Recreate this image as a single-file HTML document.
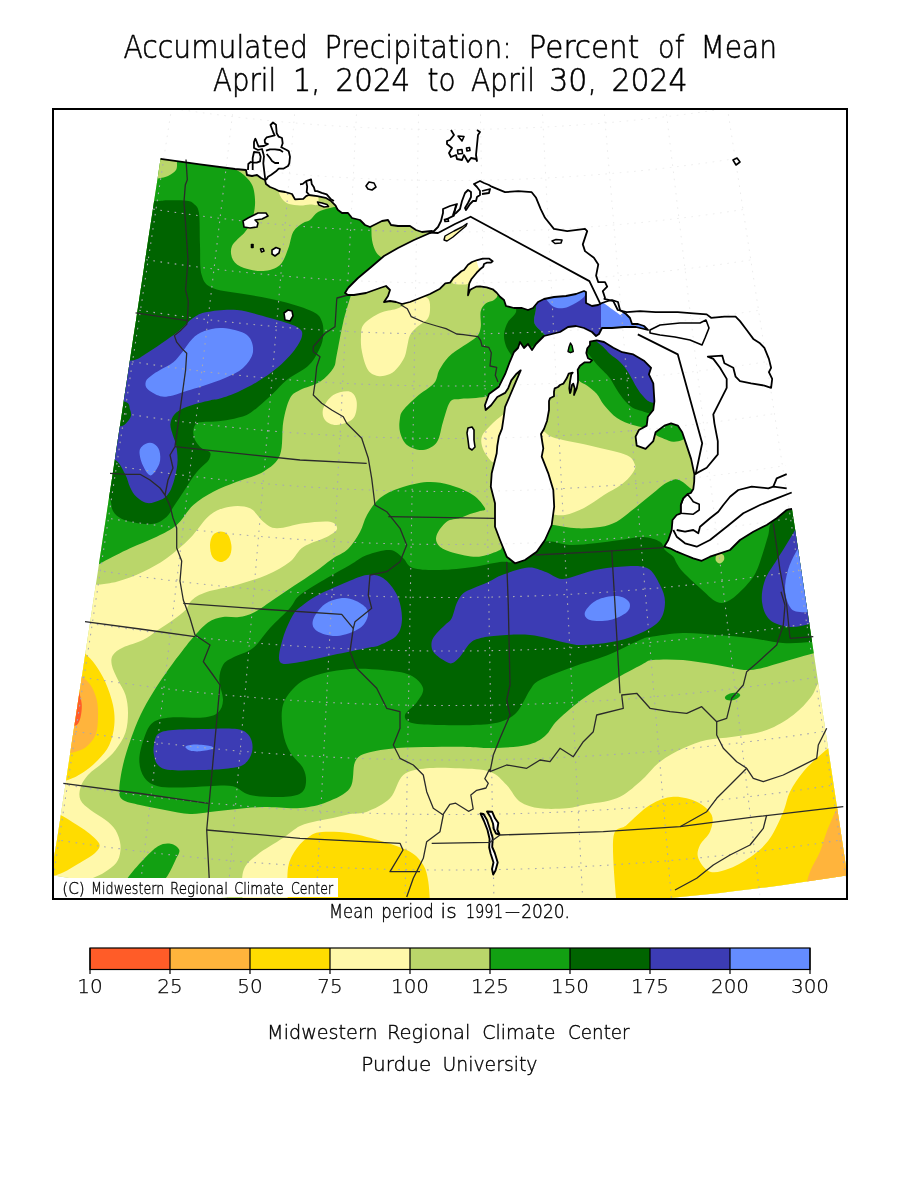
<!DOCTYPE html>
<html><head><meta charset="utf-8"><title>Accumulated Precipitation: Percent of Mean</title>
<style>html,body{margin:0;padding:0;background:#fff;}svg{display:block;}</style></head>
<body>
<svg width="900" height="1200" viewBox="0 0 900 1200">
<defs><clipPath id="land"><path d="M160.5 159 L157.5 179 L154.4 199 L151.4 219 L148.3 239 L145.3 259 L142.3 279 L139.2 299 L136.2 319 L133.1 339 L130.1 359 L127.1 379 L124 399 L121 419 L117.9 439 L114.9 459 L111.9 479 L108.8 499 L105.8 519 L102.7 539 L99.7 559 L96.7 579 L93.6 599 L90.6 619 L87.5 639 L84.5 659 L81.5 679 L78.4 699 L75.4 719 L72.3 739 L69.3 759 L66.3 779 L63.2 799 L60.2 819 L57.1 839 L54 857 L54 875.5 L60 876.5 L75 878.9 L90 881.2 L105 883.4 L120 885.5 L135 887.5 L150 889.4 L165 891.2 L180 893 L195 894.6 L210 896.1 L225 897.6 L240 898.9 L255 900.2 L270 901.3 L285 902.4 L300 903.4 L315 904.3 L330 905 L345 905.7 L360 906.3 L375 906.9 L390 907.3 L405 907.6 L420 907.8 L435 908 L450 908 L465 908 L480 907.8 L495 907.6 L510 907.2 L525 906.8 L540 906.3 L555 905.7 L570 905 L585 904.2 L600 903.3 L615 902.4 L630 901.3 L645 900.1 L660 898.9 L675 897.5 L690 896.1 L705 894.5 L720 892.9 L735 891.1 L750 889.3 L765 887.4 L780 885.4 L795 883.3 L810 881.1 L825 878.8 L840 876.4 L846 875.4 L846 868 L845 860 L842 840 L839 820 L835.9 800 L832.9 780 L829.9 760 L826.9 740 L823.9 720 L820.8 700 L817.8 680 L814.8 660 L811.8 640 L808.8 620 L805.7 600 L802.7 580 L799.7 560 L796.7 540 L793.7 520 L792 509 L788.7 509.3 L786.7 510 L776.7 518.3 L766.7 525 L753.3 531.7 L740 540 L730 550 L720 553.3 L710 556.7 L701.7 560.8 L693.3 558.3 L685 555 L676.7 551.7 L670 548.3 L664.2 546.7 L668.3 540 L671.7 530 L672.5 520 L676.7 515 L680.8 513.3 L680.8 505 L683.3 498.3 L687.5 494.2 L690.8 493 L693.3 489 L694.2 481.7 L694.4 474.4 L691.1 458.9 L686.7 445.6 L682.2 432.2 L677.8 425.6 L671.1 423.3 L664.4 425.6 L655.6 432.2 L653.3 441.1 L645.6 448.9 L636.7 445.6 L635.6 436.7 L638.9 430 L646.7 425.6 L647.8 416.7 L653.3 410 L654.4 401.1 L653.3 383.3 L648.9 374.4 L651.1 367.8 L644.4 361.1 L633.3 354.4 L622.2 352.2 L613.3 347.8 L604 342 L596.7 340.3 L590 341.7 L590 345 L587.3 348.3 L586.3 353 L588 358.3 L592 360.3 L590 362.3 L584.7 362.3 L580 365.7 L577.7 369.7 L578 375 L578 381.7 L576.7 388.3 L574 395 L574.7 388.3 L573.3 383.7 L572 385 L570.7 391.7 L570 393 L569.3 388.3 L570 381.7 L571.3 374.3 L572.7 372.7 L568.7 373.7 L566.7 378.3 L563.3 383.7 L560 385 L558 387 L554.7 388.3 L554 391.7 L554 396.3 L550 398.3 L549 401 L549 410 L547 421 L544 429 L541 434 L543.3 448.3 L541.7 456.7 L548.3 473.3 L553.3 490 L554.2 506.7 L551.7 525 L545 540 L536.7 551.7 L525 560 L515 563.3 L506.7 556.7 L500 540 L495 526.7 L495 503.3 L490.8 486.7 L491.7 473.3 L496.7 453.3 L497.3 445.8 L498.9 436.4 L502 428.7 L503.6 417.8 L505.1 406.9 L509.8 396 L514.4 385.1 L520.7 370.3 L516 374.2 L511.3 380.4 L508.2 388.2 L505.1 392.9 L497.3 397 L491.1 405.3 L485.7 410 L484.9 405.3 L489 394 L498.9 386.7 L505.1 374.2 L509.8 361.8 L514 352 L518 348 L520 342 L524 348 L528 344 L532 350 L536 344 L540 340 L544 336 L552 334 L560 332 L568 327 L576 326 L584 328 L592 332 L596 336 L599 334 L602 328 L612 328 L624 327 L636 327 L648 330 L644 326 L638 324 L632 324 L630 318 L626 314 L620 310 L618 302 L612 300 L608 301 L602 303 L598 305 L592 306 L586 303 L586 292 L584 291 L576 294 L566 296 L554 297 L544 299 L538 302 L533 308 L528 310 L522 308 L514 308 L506 306 L504 300 L500 296.7 L496.7 292.7 L492.7 289.3 L486.7 287.3 L480 286.3 L476 286.7 L472 288.7 L470 290 L468 295.3 L468.7 287.3 L469.3 283.3 L471.3 279.3 L474 276 L476.7 272.7 L480 269.3 L483.3 266.7 L484 264 L486.7 262.7 L490.7 262.7 L492.7 261.3 L489.3 258.7 L482.7 258.7 L477.3 260 L472 262 L468 264.7 L464 270 L461.3 271.3 L457.3 274.7 L453.3 278 L450 282.7 L445.3 283.3 L440 288.7 L430 294 L420 298 L410 302 L402 304 L396 302 L390 301 L384 302 L388 296 L390 290 L386 286 L380 288 L366 293 L354 295 L348 295 L345 293 L348 288 L358 278 L370 268 L384 256 L398 248 L414 240 L430 233 L432 231 L422 232 L416 230 L410 226 L398 226 L391 225 L388 220 L382 221 L376 224 L370 227 L365 225 L360 220 L352 218 L348 213 L342 213 L338 210 L337.2 208.9 L335.6 205.6 L331.1 201.1 L325.6 197.8 L317.2 196.1 L308.9 195 L306.1 196.1 L303.3 198.9 L295 199.4 L292 194 L285 192 L279 191 L275 189 L270 187 L266 184 L265 180 L261 178 L257 175 L252 176 L247 175 L246 170 L235 169 L200 164.3 L160.5 158.8Z"/></clipPath>
<clipPath id="dom"><path d="M168.3 108 L54 857 L54 900 L846 900 L846 868 L731.4 108Z"/></clipPath>
<clipPath id="frame"><rect x="54" y="110" width="792" height="788"/></clipPath></defs>
<rect width="900" height="1200" fill="#fff"/>
<g clip-path="url(#frame)">
<path clip-path="url(#dom)" fill="none" stroke="#ebebeb" stroke-width="1" stroke-dasharray="1.6 5.6" d="M40.0 83.1A1829.5 1829.5 0 0 0 860.0 82.9M40.0 135.4A1880.5 1880.5 0 0 0 860.0 135.1M40.0 188.1A1932.0 1932.0 0 0 0 860.0 187.9M40.0 240.3A1983.0 1983.0 0 0 0 860.0 240.0M40.0 292.4A2034.0 2034.0 0 0 0 860.0 292.1M40.0 345.4A2086.0 2086.0 0 0 0 860.0 345.2M40.0 398.9A2138.5 2138.5 0 0 0 860.0 398.7M40.0 452.9A2191.5 2191.5 0 0 0 860.0 452.7M40.0 506.8A2244.5 2244.5 0 0 0 860.0 506.6M40.0 560.7A2297.5 2297.5 0 0 0 860.0 560.5M40.0 615.1A2351.0 2351.0 0 0 0 860.0 614.9M40.0 670.4A2405.5 2405.5 0 0 0 860.0 670.2M40.0 725.7A2460.0 2460.0 0 0 0 860.0 725.5M40.0 780.9A2514.5 2514.5 0 0 0 860.0 780.8M40.0 837.2A2570.0 2570.0 0 0 0 860.0 837.0M172.8 100.0L49.0 905.0M234.2 100.0L138.0 905.0M295.8 100.0L227.0 905.0M357.2 100.0L316.0 905.0M418.8 100.0L405.0 905.0M480.2 100.0L494.0 905.0M541.8 100.0L583.0 905.0M603.2 100.0L672.0 905.0M664.8 100.0L761.0 905.0M726.2 100.0L850.0 905.0"/>
<g clip-path="url(#land)">
<rect x="0" y="0" width="900" height="1200" fill="#bad66a"/>
<path fill="#fff8aa" d="M94 585C94 585 108.5 583.9 116.7 581.7C124.9 579.5 135 575.6 143.3 571.7C151.6 567.8 158.9 563.9 166.7 558.3C174.5 552.7 182.8 545.5 190 538.3C197.2 531.1 203.3 520.3 210 515C216.7 509.7 223.3 507.8 230 506.7C236.7 505.6 244.4 505.8 250 508.3C255.6 510.8 258.9 518.4 263.3 521.7C267.8 525 270 528 276.7 528.3C283.4 528.6 294.4 524.4 303.3 523.3C312.2 522.2 324.4 520.8 330 521.7C335.6 522.7 337.6 526.5 337 529C336.4 531.5 332.3 534 326.7 537C321.1 540 309.4 542.9 303.3 547C297.2 551.1 296.1 557 290 561.7C283.9 566.4 275.6 571.1 266.7 575C257.8 578.9 246.7 582.2 236.7 585C226.7 587.8 214.1 589.5 206.7 592C199.2 594.5 195.5 597 192 600C188.5 603 188.7 606.7 185.5 610C182.3 613.3 177.6 616.7 173 620C168.4 623.3 163 626.7 158 630C153 633.3 148.8 637.1 143 640C137.2 642.9 128 645 123 647.5C118 650 114.9 652.1 113 655C111.1 657.9 111 660.8 111.8 665C112.6 669.2 115.7 675 118 680C120.3 685 123.8 689.6 125.5 695C127.2 700.4 128 706.2 128 712.5C128 718.8 127.6 726.2 125.5 732.5C123.4 738.8 119.2 745 115.5 750C111.8 755 107.6 758.3 103 762.5C98.4 766.7 91.8 770.8 88 775C84.2 779.2 81.8 783.3 80.5 787.5C79.2 791.7 78.8 796.2 80.5 800C82.2 803.8 86.3 806.7 90.5 810C94.7 813.3 101.3 816.7 105.5 820C109.7 823.3 113 825.8 115.5 830C118 834.2 120.1 840 120.5 845C120.9 850 120.1 855.8 118 860C115.9 864.2 112.2 867 108 870C103.8 873 101 874.7 93 878C85 881.3 60 890 60 890C60 890 30 890 30 890C30 890 30 585 30 585C30 585 94 585 94 585Z"/>
<path fill="#fff8aa" d="M364 324C367.2 320.2 374.7 315.5 380 313C385.3 310.5 391.9 310.4 396 309C400.1 307.6 402 306.5 404.7 304.7C407.4 302.9 409.3 299.6 412 298C414.7 296.4 417.9 295.1 420.7 295.3C423.5 295.5 427.1 296.9 428.7 299.3C430.2 301.8 430.2 306.7 430 310C429.8 313.3 429.5 316.4 427.3 319.3C425.1 322.2 419.6 324.6 416.7 327.3C413.8 330 411.6 332.2 410 335.3C408.4 338.4 408.2 342.4 407.3 346C406.4 349.6 406.2 353.1 404.7 356.7C403.1 360.2 400.4 364.4 398 367.3C395.6 370.2 393.3 372.6 390 374C386.7 375.4 381.7 376.7 378 376C374.3 375.3 370.7 374 368 370C365.3 366 363.2 357.7 362 352C360.8 346.3 360.7 340.7 361 336C361.3 331.3 360.8 327.8 364 324Z"/>
<path fill="#fff8aa" d="M453 283.5C450.8 282.2 454.5 278.1 456 276C457.5 273.9 460 272.8 462 271C464 269.2 465.7 266.7 468 265C470.3 263.3 473.3 261.8 476 261C478.7 260.2 482.5 260 484 260.5C485.5 261 485.7 262.5 485 264C484.3 265.5 481.8 267.3 480 269.3C478.2 271.3 475.8 273.6 474 276C472.2 278.4 472.8 282.4 469.3 283.7C465.8 284.9 455.2 284.8 453 283.5Z"/>
<path fill="#fff8aa" d="M279 188C279 188 278.3 191 279 193C279.7 195 281.3 198.2 283 200C284.7 201.8 286.2 203.1 289 204C291.8 204.9 296.5 205.4 300 205.5C303.5 205.6 307 204.8 310 204.5C313 204.2 316.7 206.4 318 204C319.3 201.6 318 190 318 190C318 190 279 188 279 188Z"/>
<path fill="#fff8aa" d="M323.3 408.3C324.7 404.1 328.9 397.8 333.3 395C337.8 392.2 346.1 390.6 350 391.7C353.9 392.8 356.1 397.3 356.7 401.7C357.2 406.1 356.6 414.4 353.3 418.3C350 422.2 341.4 424.7 336.7 425C332 425.3 327.2 422.8 325 420C322.8 417.2 321.9 412.5 323.3 408.3Z"/>
<path fill="#fff8aa" d="M504 414C500.7 416 493.7 422.3 490 426C486.3 429.7 483.3 432.7 482 436C480.7 439.3 481.2 442.7 482 446C482.8 449.3 484.8 453.2 487 456C489.2 458.8 491.2 462.3 495 463C498.8 463.7 510 460 510 460C510 460 510 414 510 414C510 414 507.3 412 504 414Z"/>
<path fill="#fff8aa" d="M535 428C535 428 539.5 428.7 542 430C544.5 431.3 546.5 434.3 550 436C553.5 437.7 557.5 438.7 563 440C568.5 441.3 576.8 442.7 583 444C589.2 445.3 594.3 446.7 600 448C605.7 449.3 612 450.5 617 452C622 453.5 627 454.8 630 457C633 459.2 634.3 462.8 635 465C635.7 467.2 635.4 467.9 634.4 470C633.4 472.1 631.3 475.2 628.9 477.8C626.5 480.4 624.1 482.7 620 485.6C615.9 488.5 610 491.3 604 495C598 498.7 590.5 504.7 584 508C577.5 511.3 570.7 514 565 515C559.3 516 554.2 514.5 550 514C545.8 513.5 540 512 540 512C540 512 535 428 535 428Z"/>
<path fill="#fff8aa" d="M243 905C243 905 240.7 880.3 243 872C245.3 863.7 250.3 860.7 257 855C263.7 849.3 275.8 842.8 283 838C290.2 833.2 294.3 828.8 300 826C305.7 823.2 311.5 822.3 317 821C322.5 819.7 327.5 819.2 333 818C338.5 816.8 344.3 815 350 814C355.7 813 360.3 814.3 367 811.7C373.7 809.1 383.9 804.4 390 798.3C396.1 792.2 397.2 780 403.3 775C409.4 770 417.2 769.4 426.7 768.3C436.1 767.2 449.4 767.7 460 768.3C470.6 768.9 482.2 768.9 490 771.7C497.8 774.5 501.7 780 506.7 785C511.7 790 514.5 797.8 520 801.7C525.5 805.6 532.2 807.2 540 808.3C547.8 809.4 559.5 808.8 566.7 808.3C573.9 807.8 575 806.7 583.3 805C591.6 803.3 607.2 802.2 616.7 798.3C626.2 794.4 632.8 787.8 640 781.7C647.2 775.6 652.8 767.3 660 761.7C667.2 756.1 675.5 751.9 683.3 748.3C691.1 744.7 698.4 741.9 706.7 740C715 738.1 723.3 738.4 733.3 736.7C743.3 735 756.7 733.6 766.7 730C776.7 726.4 785.9 720.5 793.3 715C800.7 709.5 806.8 702.3 811 697C815.2 691.7 815.1 687.8 818.3 683.3C821.5 678.8 830 670 830 670C830 670 870 670 870 670C870 670 870 905 870 905C870 905 243 905 243 905Z"/>
<path fill="#ffdc00" d="M80 650C80 650 82.9 651.3 85.5 653.8C88.1 656.3 92.2 660.2 95.5 665C98.8 669.8 102.6 675.8 105.5 682.5C108.4 689.2 111.5 697.9 113 705C114.5 712.1 114.9 718.3 114.3 725C113.7 731.7 112 739.2 109.3 745C106.6 750.8 102.4 755.4 98 760C93.6 764.6 88 769.2 83 772.5C78 775.8 72.7 778.4 68 780C63.3 781.6 55 782 55 782C55 782 55 650 55 650C55 650 80 650 80 650Z"/>
<path fill="#ffdc00" d="M50 812C50 812 56.7 813.2 60.5 815C64.3 816.8 68.4 819.6 73 822.5C77.6 825.4 83.6 829 88 832.5C92.4 836 98 840.5 99.3 843.8C100.5 847.1 98.6 849.4 95.5 852.5C92.4 855.6 85.9 859.2 80.5 862.5C75.1 865.8 68.1 870.1 63 872.5C57.9 874.9 50 877 50 877C50 877 50 812 50 812Z"/>
<path fill="#ffdc00" d="M210 545C210.1 541.3 211.2 537.2 213 535C214.8 532.8 218.2 531.5 220.7 531.5C223.2 531.5 226.2 532.5 228 535C229.8 537.5 231.3 543 231.5 546.7C231.7 550.4 230.8 554.5 229 557C227.2 559.5 223.8 562 221 562C218.2 562 214.3 559.8 212.5 557C210.7 554.2 209.9 548.7 210 545Z"/>
<path fill="#ffdc00" d="M288 905C288 905 286.5 877.5 288 868C289.5 858.5 293.3 853.3 297 848C300.7 842.7 305.8 838.7 310 836C314.2 833.3 315.3 832.5 322 832C328.7 831.5 339.8 831.7 350 833.3C360.2 834.9 373.3 838.6 383.3 841.7C393.3 844.8 403.3 847.8 410 851.7C416.7 855.6 420.2 860 423.3 865C426.4 870 427.2 875 428.3 881.7C429.4 888.4 430 905 430 905C430 905 288 905 288 905Z"/>
<path fill="#ffdc00" d="M616.7 905C616.7 905 611.6 851.6 613.3 838.3C615 825 620.6 830.5 626.7 825C632.8 819.5 642.2 809.7 650 805C657.8 800.3 665.5 797.2 673.3 796.7C681.1 796.2 690.3 798.7 696.7 801.7C703.1 804.8 709.5 810 711.7 815C713.9 820 712 826.7 710 831.7C708 836.7 702 840.6 700 845C698 849.4 696.6 853.8 698.3 858.3C700 862.8 704.7 870 710 871.7C715.3 873.4 722.8 871.1 730 868.3C737.2 865.5 746.6 860 753.3 855C760 850 765 845.5 770 838.3C775 831.1 780 819.5 783.3 811.7C786.6 803.9 786.7 798.4 790 791.7C793.3 785 798.8 777.3 803.3 771.7C807.8 766.1 812.5 762.2 816.7 758.3C820.9 754.4 824.4 751.3 828.3 748.3C832.2 745.2 840 740 840 740C840 740 870 740 870 740C870 740 870 905 870 905C870 905 616.7 905 616.7 905Z"/>
<path fill="#ffb43c" d="M78 672C78 672 78.4 672.8 80.5 675C82.6 677.2 87.8 680.8 90.5 685C93.2 689.2 95.5 694.6 96.8 700C98 705.4 98.2 711.7 98 717.5C97.8 723.3 97.6 730 95.5 735C93.4 740 89.2 744.6 85.5 747.5C81.8 750.4 77.2 751.2 73 752.5C68.8 753.8 60 755 60 755C60 755 60 672 60 672C60 672 78 672 78 672Z"/>
<path fill="#ffb43c" d="M840 800C840 800 838.9 803 836.7 808.3C834.5 813.6 829.5 824.5 826.7 831.7C823.9 838.9 822.8 845 820 851.7C817.2 858.4 812.5 865.3 810 871.7C807.5 878.1 805 890 805 890C805 890 870 890 870 890C870 890 870 800 870 800C870 800 840 800 840 800Z"/>
<path fill="#ff5c28" d="M78 690C78 690 78.7 690 79.3 692.5C79.9 695 81.6 700.8 81.8 705C82 709.2 81.3 714.2 80.5 717.5C79.7 720.8 78.5 723.6 76.8 725C75 726.4 70 726 70 726C70 726 70 690 70 690C70 690 78 690 78 690Z"/>
<path fill="#12a012" d="M150 150C150 150 231.7 150 231.7 150C231.7 150 230.6 162.3 232 166C233.4 169.7 237.8 170.3 240 172C242.2 173.7 243.2 174.2 245 176C246.8 177.8 249.5 180.5 251 183C252.5 185.5 253.3 187.3 254 191C254.7 194.7 255.3 200.2 255 205C254.7 209.8 253.7 215.5 252 220C250.3 224.5 248.3 227.7 245 232C241.7 236.3 234 241.3 232 246C230 250.7 231 256.3 233 260C235 263.7 238.9 266.2 244 268C249.1 269.8 257.3 271.5 263.3 271C269.3 270.5 275.8 268.8 280 265C284.2 261.2 286.1 253.9 288.3 248.3C290.5 242.8 290.9 235.9 293.3 231.7C295.8 227.5 300.2 224.9 303 223C305.8 221.1 307.5 221.8 310 220C312.5 218.2 314.7 214 318 212C321.3 210 325.5 209.2 330 208C334.5 206.8 345 205 345 205C345 205 368 205 368 205C368 205 370.3 216.2 371 222C371.7 227.8 371.2 235 372 240C372.8 245 374.3 249 376 252C377.7 255 378 254.2 382 258C386 261.8 400 275 400 275C400 275 352 292 352 292C352 292 345.9 311.2 343.3 321.7C340.8 332.2 338.4 347.2 336.7 355C335 362.8 336.1 363.9 333.3 368.3C330.5 372.8 325.6 378.1 320 381.7C314.4 385.3 305 387.2 300 390C295 392.8 292.8 393 290 398.3C287.2 403.6 285 412.2 283.3 421.7C281.6 431.1 283.3 446.7 280 455C276.7 463.3 270.5 467.2 263.3 471.7C256.1 476.1 245 478.4 236.7 481.7C228.4 485 220.5 487.8 213.3 491.7C206.1 495.6 199.4 499.4 193.3 505C187.2 510.6 182.8 519.7 176.7 525C170.6 530.3 164.5 532.8 156.7 536.7C148.9 540.6 138.9 544.1 130 548.3C121.1 552.5 110 558.1 103.3 561.7C96.6 565.3 90 570 90 570C90 570 90 150 90 150C90 150 150 150 150 150Z"/>
<path fill="#12a012" d="M486 303.3C488.2 301.4 492 301.6 494 300C496 298.4 497.3 297.3 498 294C498.7 290.7 498 280 498 280C498 280 660 280 660 280C660 280 670 330 670 330C670 330 662 420 662 420C662 420 651.8 426.2 647 427C642.2 427.8 638 426.5 633 425C628 423.5 621.8 421.3 617 418C612.2 414.7 607.4 409.1 604 405C600.6 400.9 599.5 396.9 596.7 393.7C593.9 390.5 590.3 387.9 587.3 385.7C584.3 383.5 580.9 383.2 578.7 380.3C576.5 377.4 574 368 574 368C574 368 540 356 540 356C540 356 522 366 522 366C522 366 518.7 372.7 516 376C513.3 379.3 509.3 383.3 506 386C502.7 388.7 499 390.3 496 392C493 393.7 491.3 395 488 396C484.7 397 480.7 397.5 476 398C471.3 398.5 464.3 398.3 460 399C455.7 399.7 452.8 398.2 450 402C447.2 405.8 445.2 415.3 443 422C440.8 428.7 440.3 437.3 437 442C433.7 446.7 428 449.5 423 450C418 450.5 410.8 448 407 445C403.2 442 401.2 436.5 400 432C398.8 427.5 399.4 421.7 400 418C400.6 414.3 400.5 413.6 403.3 410C406.1 406.4 411.6 401.1 416.7 396.7C421.8 392.2 430.2 387.8 434 383.3C437.8 378.9 436.9 374.4 439.3 370C441.8 365.6 444.7 360.7 448.7 356.7C452.7 352.7 458.6 349.3 463.3 346C468 342.7 473.8 339.8 476.7 336.7C479.6 333.6 480 331.5 480.7 327.3C481.4 323.1 479.8 315.3 480.7 311.3C481.6 307.3 483.8 305.2 486 303.3Z"/>
<path fill="#12a012" d="M652 430C652 430 654.6 434.1 656.7 435.6C658.8 437.1 661.6 437.9 664.4 438.9C667.2 439.9 670.3 441.5 673.3 441.7C676.3 441.9 679.4 441.1 682.2 440C685 438.9 690 435 690 435C690 435 680 415 680 415C680 415 655 415 655 415C655 415 652 430 652 430Z"/>
<path fill="#12a012" d="M119.3 790C119.3 784.2 121.1 773.3 123 765C124.9 756.7 127.6 748.3 130.5 740C133.4 731.7 136.8 722.9 140.5 715C144.2 707.1 148.4 700 153 692.5C157.6 685 163 677.1 168 670C173 662.9 178.8 655.4 183 650C187.2 644.6 188.8 642.1 193 637.5C197.2 632.9 203 625.9 208 622.5C213 619.1 217.8 617.9 223 617C228.2 616.1 233.7 617.8 238.9 617C244.1 616.2 248.5 615.2 254.4 612.2C260.3 609.2 267.7 603.3 274.4 598.9C281.1 594.5 287.7 590 294.4 585.6C301.1 581.2 308.1 576.7 314.4 572.2C320.7 567.8 326.6 562.8 332.2 558.9C337.8 555 343.4 553.5 348 549C352.6 544.5 356.8 537.7 360 532C363.2 526.3 363.7 520.7 367 515C370.3 509.3 374.5 502.5 380 498C385.5 493.5 392.2 490.7 400 488C407.8 485.3 418.7 482.5 427 482C435.3 481.5 442.3 482.8 450 485C457.7 487.2 467.2 491.1 473 495C478.8 498.9 483.8 505.6 485 508.3C486.2 511 482.5 510.1 480 511C477.5 511.9 473.3 512.8 470 514C466.7 515.2 463.9 516.7 460 518C456.1 519.3 450.6 518.9 446.7 521.7C442.8 524.5 438.1 531.1 436.7 535C435.3 538.9 436.1 542.2 438.3 545C440.5 547.8 444.2 549.8 450 551.7C455.8 553.7 467.2 556.2 473.3 556.7C479.4 557.2 482.2 556.1 486.7 555C491.1 553.9 497.2 551.4 500 550C502.8 548.6 500 547.5 503.3 546.7C506.6 545.9 520 545 520 545C520 545 545 526 545 526C545 526 548 524.6 553.3 525C558.6 525.4 568.9 528 576.7 528.3C584.5 528.6 593.3 528.1 600 527C606.7 525.9 611.5 524.4 616.7 521.7C621.9 519.1 626.8 514.4 631 511.1C635.2 507.8 638.5 505 642.2 502C645.9 499 649.6 496 653.3 493C657 490 660.9 486.3 664.4 484C667.9 481.7 671.6 479.9 674.4 479.4C677.2 478.9 678.5 479.7 681.1 481.1C683.7 482.5 686.9 485.7 690 488C693.1 490.3 700 495 700 495C700 495 830 480 830 480C830 480 830 653 830 653C830 653 822.8 651.5 815 653C807.2 654.5 793.8 659.2 783 662C772.2 664.8 761 669.5 750 670C739 670.5 728.2 666.7 717 665C705.8 663.3 693.7 660.8 683 660C672.3 659.2 659.8 659.3 653 660C646.2 660.7 648.6 661.1 642 664.4C635.4 667.7 622.9 674.4 613.3 680C603.7 685.6 593.6 691.1 584.4 697.8C575.1 704.5 564.4 713.6 557.8 720C551.2 726.4 550.1 731.8 545 736C539.9 740.2 535.7 743 527 745C518.3 747 503 747.7 493 748C483 748.3 477 747.2 467 747C457 746.8 444.7 746.8 433 747C421.3 747.2 408 747 397 748C386 749 374 750.7 367 753C360 755.3 357.8 756.2 355 762C352.2 767.8 354.7 781.3 350 788C345.3 794.7 335.3 798.7 327 802C318.7 805.3 310.7 807.2 300 808C289.3 808.8 273.5 806.8 263 807C252.5 807.2 245.8 808.2 237 809C228.2 809.8 217.8 811.2 210 812C202.2 812.8 197.5 814.3 190 814C182.5 813.7 173.3 811.5 165 810C156.7 808.5 147 806.7 140 805C133 803.3 126.5 802.5 123 800C119.5 797.5 119.3 795.8 119.3 790Z"/>
<path fill="#12a012" d="M128 877.5C131 873.3 138 865.2 143 860C148 854.8 153.4 849 158 846.3C162.6 843.6 166.9 843.2 170.5 843.8C174.1 844.4 178.5 847.3 179.3 850C180.1 852.7 177.4 855.8 175.5 860C173.6 864.2 170.6 870.8 168 875C165.4 879.2 160 885 160 885C160 885 125 885 125 885C125 885 125 881.7 128 877.5Z"/>
<path fill="#12a012" d="M725 697C725.5 695.9 727.8 694.2 730 693.5C732.2 692.8 736.3 692.6 738 693C739.7 693.4 740.7 694.8 740 696C739.3 697.2 736.2 699.3 734 700C731.8 700.7 728.5 700.5 727 700C725.5 699.5 724.5 698.1 725 697Z"/>
<path fill="#bad66a" d="M158 150C158 150 177 150 177 150C177 150 177.2 158.2 177 161.5C176.8 164.8 177.5 167.6 176 170C174.5 172.4 171 174.6 168 176C165 177.4 158 178.5 158 178.5C158 178.5 158 150 158 150Z"/>
<path fill="#bad66a" d="M716 556C716.5 554.8 717.8 553.7 719 553.5C720.2 553.3 722.7 553.9 723.5 555C724.3 556.1 724.6 558.6 724 560C723.4 561.4 721.3 563.3 720 563.5C718.7 563.7 716.7 562.2 716 561C715.3 559.8 715.5 557.2 716 556Z"/>
<path fill="#006400" d="M100 200.5C100 200.5 144.2 201 155.3 201C166.4 201 161.5 200.4 166.7 200.3C171.9 200.2 182.1 200.1 186.7 200.7C191.2 201.3 191.9 201.9 194 204C196.1 206.1 198 206.2 199 213C200 219.8 199.6 234.7 200 245C200.4 255.3 199.5 267.8 201.7 275C203.9 282.2 205.2 285 213.3 288.3C221.4 291.6 238.4 292.8 250 295C261.6 297.2 272.5 298.9 283 301.7C293.5 304.5 306.5 308.4 313 311.7C319.5 315 320.3 317.3 322 321.7C323.7 326.1 323.7 332.9 323 338C322.3 343.1 320.5 347.3 318 352C315.5 356.7 313.2 361.3 308 366C302.8 370.7 292.5 375.4 286.7 380C280.9 384.6 278 388.9 273.3 393.3C268.6 397.8 262.7 403.1 258.3 406.7C253.9 410.3 251.4 412.9 246.7 415C242 417.1 235.3 418.4 230 419.5C224.7 420.6 219.5 421.1 215 421.5C210.5 421.9 206.1 421.7 203 422C199.9 422.3 198.3 422 196.7 423.3C195.1 424.6 193.6 427.2 193.3 430C193 432.8 193.6 436.9 195 440C196.4 443.1 199.4 446.4 201.7 448.3C204 450.2 207.5 450.4 209 451.5C210.5 452.6 210.7 453.4 210.5 455C210.3 456.6 209.6 458.9 208 461C206.4 463.1 203.5 464.8 201 467.5C198.5 470.2 195.8 473.1 193 477C190.2 480.9 187.2 486.2 184 491C180.8 495.8 176.9 501.7 174 506C171.1 510.3 169.7 514.1 166.5 517C163.3 519.9 159.4 522.5 155 523.6C150.6 524.7 145.5 524.4 140 523.6C134.5 522.8 126.5 521.1 122 519C117.5 516.9 115.1 514.5 113 511C110.9 507.5 111.7 500.7 109.5 498C107.3 495.3 100 495 100 495C100 495 100 200.5 100 200.5Z"/>
<path fill="#006400" d="M514 300C514 300 517 308.3 516 312C515 315.7 510 318.3 508 322C506 325.7 504.3 330 504 334C503.7 338 504.7 342.3 506 346C507.3 349.7 512 356 512 356C512 356 546 340 546 340C546 340 543.7 334.3 542 332C540.3 329.7 537.3 328 536 326C534.7 324 534 323 534 320C534 317 536 311.7 536 308C536 304.3 534 298 534 298C534 298 514 300 514 300Z"/>
<path fill="#006400" d="M583 340C583 340 585 350 585 350C585 350 588 353.6 590 356C592 358.4 594.5 361.8 596.7 364.3C598.9 366.8 601.1 368.7 603.3 371C605.5 373.3 607.7 375.1 610 378.3C612.3 381.5 614.5 386.2 617 390C619.5 393.8 622.3 398 625 401C627.7 404 630.2 406.3 633 408C635.8 409.7 639.3 410.2 642 411.1C644.7 412 646 412.7 649 413.3C652 413.9 660 415 660 415C660 415 670 330 670 330C670 330 590 330 590 330C590 330 583 340 583 340Z"/>
<path fill="#006400" d="M800 495C800 495 778.3 513.3 773 520C767.7 526.7 769.9 529.7 768.3 535C766.7 540.3 765.3 545.5 763.3 551.7C761.2 557.9 758.8 566.5 756 572C753.2 577.5 751 580.3 746.7 585C742.4 589.7 735 597.2 730 600C725 602.8 722 604 717 602C712 600 705.7 593 700 588C694.3 583 686.9 576.1 683 572C679.1 567.9 678.3 565.8 676.7 563.3C675.1 560.8 675.2 558.9 673.3 556.7C671.3 554.5 667.2 552.5 665 550C662.8 547.5 663.7 543.9 660 541.7C656.3 539.5 649.7 537.3 643 537C636.3 536.7 628 539 620 540C612 541 603.3 542.5 595 543.3C586.7 544.1 578.3 545.3 570 545C561.7 544.7 551.7 540 545 541.7C538.3 543.4 530 555 530 555C530 555 518 560.8 513 562C508 563.2 506.7 561.2 500 562C493.3 562.8 483 565.7 473 567C463 568.3 450 569.8 440 570C430 570.2 419.2 570 413 568C406.8 566 406.8 561 403 558C399.2 555 396 550.5 390 550C384 549.5 373.7 552.5 367 555C360.3 557.5 356.7 561.2 350 565C343.3 568.8 335.3 573 327 578C318.7 583 306.2 590 300 595C293.8 600 295 602.5 290 608C285 613.5 276.2 621.3 270 628C263.8 634.7 259.2 643.1 253 648C246.8 652.9 238 654.7 233 657.5C228 660.3 225.3 661.2 223 665C220.7 668.8 219.3 674.2 219.3 680C219.3 685.8 223.2 694.6 223 700C222.8 705.4 221.3 709.6 218 712.5C214.7 715.4 210.9 716.7 203 717.5C195.1 718.3 178.8 716.7 170.5 717.5C162.2 718.3 157.4 719.2 153 722.5C148.6 725.8 146.6 731.2 144.3 737.5C142 743.8 139.3 753.3 139.3 760C139.3 766.7 141.2 773.1 144.3 777.5C147.4 781.9 151.6 784.6 158 786.3C164.4 788 174.7 787.5 183 787.5C191.3 787.5 199.7 786.5 208 786.3C216.3 786.1 226 784.8 233 786.3C240 787.8 241.7 793.2 250 795C258.3 796.8 274.5 797.3 283 797C291.5 796.7 297.2 795.5 301 793C304.8 790.5 305.7 786.2 306 782C306.3 777.8 305.7 773 303 768C300.3 763 293.3 758 290 752C286.7 746 284.2 739.8 283 732C281.8 724.2 280.7 712.8 283 705C285.3 697.2 291.3 690 297 685C302.7 680 308.2 677.7 317 675C325.8 672.3 339 669.8 350 669C361 668.2 373 669 383 670C393 671 403.3 672 410 675C416.7 678 421.8 683.5 423 688C424.2 692.5 420 697.5 417 702C414 706.5 405.8 711.5 405 715C404.2 718.5 406.2 721.3 412 723C417.8 724.7 429.8 724.7 440 725C450.2 725.3 463 725.5 473 725C483 724.5 492.7 724.2 500 722C507.3 719.8 512 717.3 517 712C522 706.7 526.2 695.3 530 690C533.8 684.7 532.8 683.9 540 680C547.2 676.1 562.2 670.8 573.3 666.7C584.4 662.6 595.6 660.1 606.7 655.6C617.8 651.1 632.8 643.1 640 640C647.2 636.9 642.8 638.2 650 637C657.2 635.8 671.8 633.3 683 633C694.2 632.7 705.8 634.2 717 635C728.2 635.8 739 636.7 750 638C761 639.3 772.7 642.3 783 643C793.3 643.7 803.3 642.5 812 642C820.7 641.5 835 640 835 640C835 640 835 495 835 495C835 495 800 495 800 495Z"/>
<path fill="#3c3cb4" d="M100 361C100 361 123.8 362 131.7 360.6C139.6 359.2 141.7 356.1 147.5 352.7C153.3 349.3 161.1 343.8 166.5 340C171.9 336.2 175.6 333.7 180 330C184.4 326.3 188.5 321 193 318C197.5 315 199.7 313.3 207 312C214.3 310.7 226.5 309 237 310C247.5 311 260 315.2 270 318C280 320.8 291.7 324 297 327C302.3 330 302.7 331.8 302 336C301.3 340.2 297.2 346.7 293 352C288.8 357.3 283 363 277 368C271 373 263.5 378 257 382C250.5 386 244.2 389.2 238 392C231.8 394.8 224.5 397.2 220 398.6C215.5 400 214.4 399.4 210.8 400.2C207.2 401 202.7 402 198.2 403.3C193.7 404.6 187.9 406.2 183.9 408.1C179.9 410 176.7 411.8 174.4 414.4C172.2 417 170.7 420.5 170.4 423.9C170.1 427.3 171.9 431.6 172.8 435C173.7 438.4 175.2 440.3 176 444.5C176.8 448.7 177.7 455 177.6 460.3C177.5 465.6 176.3 471.4 175.2 476.1C174.1 480.9 172.6 485.5 171.2 488.8C169.8 492.1 168.3 494 166.5 495.9C164.7 497.8 163.4 498.7 160.2 499.9C157 501.1 151.5 503.6 147.5 503.1C143.5 502.6 139.3 499.4 136.4 496.7C133.5 494 131.9 490.9 130.1 487.2C128.2 483.5 127.7 479.1 125.3 474.6C122.9 470.1 120 463.1 115.8 460.3C111.6 457.5 100 458 100 458C100 458 100 427 100 427C100 427 116.1 427.1 120.6 426.3C125.1 425.5 125.2 424 126.9 422.3C128.6 420.6 130.4 418.1 130.9 416C131.4 413.9 131 412.1 130.1 409.7C129.2 407.3 130.3 403.1 125.3 401.7C120.3 400.2 100 401 100 401C100 401 100 361 100 361Z"/>
<path fill="#3c3cb4" d="M536 296C536 296 536.3 304 536 308C535.7 312 534 317 534 320C534 323 534.7 324 536 326C537.3 328 540 330 542 332C544 334 548 338 548 338C548 338 660 345 660 345C660 345 660 290 660 290C660 290 536 296 536 296Z"/>
<path fill="#3c3cb4" d="M592 336C592 336 594.8 339.9 596.7 341.7C598.6 343.5 601.1 344.9 603.3 347C605.5 349.1 607.2 351.5 610 354C612.8 356.5 617 359 620 362C623 365 625.2 367.7 628 372C630.8 376.3 634.5 384 637 388C639.5 392 640.8 393.7 643 396C645.2 398.3 646.3 400.5 650 402C653.7 403.5 665 405 665 405C665 405 665 335 665 335C665 335 592 336 592 336Z"/>
<path fill="#3c3cb4" d="M154 745C154.7 741.5 154.8 736.5 158 734C161.2 731.5 165.5 730.8 173 730C180.5 729.2 192.3 729.2 203 729C213.7 728.8 229.2 727.7 237 729C244.8 730.3 247.5 733.2 250 737C252.5 740.8 253.2 747.3 252 752C250.8 756.7 247.8 762.2 243 765C238.2 767.8 229.7 768.2 223 769C216.3 769.8 211.8 769.8 203 770C194.2 770.2 177.5 770.8 170 770C162.5 769.2 160.7 767.5 158 765C155.3 762.5 154.7 758.3 154 755C153.3 751.7 153.3 748.5 154 745Z"/>
<path fill="#3c3cb4" d="M280 662C277.2 658 280.8 645.8 283 638C285.2 630.2 289.7 620.5 293 615C296.3 609.5 298.5 608.5 303 605C307.5 601.5 312.7 597.8 320 594C327.3 590.2 339.2 585.2 347 582C354.8 578.8 361 575.7 367 575C373 574.3 378 574.7 383 578C388 581.3 393.8 588.3 397 595C400.2 601.7 402 611.3 402 618C402 624.7 400.7 630.5 397 635C393.3 639.5 385 642.8 380 645C375 647.2 374.8 646.3 367 648C359.2 649.7 344.2 652.7 333 655C321.8 657.3 308.8 660.8 300 662C291.2 663.2 282.8 666 280 662Z"/>
<path fill="#3c3cb4" d="M431.7 641.7C432.3 638.6 434.5 636.1 436.7 633.3C438.9 630.5 442.5 627.5 445 625C447.5 622.5 449.8 621.9 451.7 618.3C453.6 614.7 454.8 607.5 456.7 603.3C458.6 599.1 460.5 595.8 463.3 593.3C466.1 590.8 469.1 590.2 473.3 588.3C477.5 586.4 483.3 584.3 488.3 582C493.3 579.7 496.6 576.9 503.3 574.5C510 572.1 521.3 568 528.3 567.5C535.2 567 539.4 569.8 545 571.7C550.6 573.6 556.2 578.5 561.7 579C567.2 579.5 572.8 576.5 578.3 575C583.8 573.5 588 571.4 595 570C602 568.6 611.3 567 620 566.7C628.7 566.4 640.3 565 647 568C653.7 571 657 579.3 660 585C663 590.7 665 596.2 665 602C665 607.8 663.7 615 660 620C656.3 625 650.2 628.5 643 632C635.8 635.5 627 638.8 617 641C607 643.2 591.3 644.7 583 645C574.7 645.3 575.8 644.7 567 643C558.2 641.3 541.7 636.2 530 635C518.3 633.8 505 635.2 496.7 635.8C488.4 636.3 484.4 637 480 638.3C475.6 639.5 473.3 640.2 470 643.3C466.7 646.4 463.1 653.4 460 656.7C456.9 660 454.5 662.8 451.7 663.3C448.9 663.8 446.4 661.9 443.3 660C440.2 658.1 435.2 654.8 433.3 651.7C431.4 648.7 431.1 644.8 431.7 641.7Z"/>
<path fill="#3c3cb4" d="M800 518C800 518 797.5 525.2 795 530C792.5 534.8 788 541.7 785 546.7C782 551.7 780 554.5 776.7 560C773.4 565.5 767.5 573 765 580C762.5 587 761.2 595.3 762 602C762.8 608.7 765.3 615.8 770 620C774.7 624.2 783.3 626.3 790 627C796.7 627.7 802.5 625.2 810 624C817.5 622.8 835 620 835 620C835 620 835 518 835 518C835 518 800 518 800 518Z"/>
<path fill="#648cff" d="M145.9 381.2C146.7 378.8 149.8 376.9 152.2 375C154.5 373.1 156.5 372.1 160 370C163.5 367.9 169.6 365.2 173.3 362.2C177 359.2 179 356.1 182.2 352.2C185.3 348.3 188.5 342.4 192.2 338.9C195.9 335.4 199.3 332.9 204.4 331.1C209.5 329.3 215.9 327.4 223 328C230.1 328.6 242 331 247 335C252 339 253.7 346.5 253 352C252.3 357.5 247.7 363.7 243 368C238.3 372.3 231.7 375 225 378C218.3 381 209.2 383.8 202.9 385.9C196.6 388 192.1 389.1 187.1 390.7C182.1 392.3 177.3 394.5 172.8 395.4C168.3 396.3 164.4 397.2 160.2 396.2C156 395.1 149.9 391.6 147.5 389.1C145.1 386.6 145.1 383.6 145.9 381.2Z"/>
<path fill="#648cff" d="M139.6 450.8C140.1 447.2 143.5 444.9 145.9 443.7C148.3 442.5 151.6 442.5 153.8 443.7C156.1 444.9 158.5 447.5 159.4 450.8C160.3 454.1 160.9 459.4 159.4 463.5C157.9 467.6 153.5 475.1 150.7 475.4C147.9 475.7 144.5 469.2 142.7 465.1C140.8 461 139.1 454.4 139.6 450.8Z"/>
<path fill="#648cff" d="M544 294C544 294 544.3 296.8 546 299C547.7 301.2 551 305.5 554 307C557 308.5 560.7 308.5 564 308C567.3 307.5 570.7 305.8 574 304C577.3 302.2 582 299.3 584 297C586 294.7 586 290 586 290C586 290 544 294 544 294Z"/>
<path fill="#648cff" d="M601 292C601 292 601 342 601 342C601 342 665 342 665 342C665 342 665 292 665 292C665 292 601 292 601 292Z"/>
<path fill="#648cff" d="M185.5 746.5C186.3 745.5 190.9 744.6 195 744.5C199.1 744.4 207 745.3 210 746C213 746.7 214.7 747.9 213 748.8C211.3 749.7 203.8 751 200 751.3C196.2 751.6 192.4 751.3 190 750.5C187.6 749.7 184.7 747.5 185.5 746.5Z"/>
<path fill="#648cff" d="M313 620C314.3 615.5 319.7 607.7 325 604C330.3 600.3 338.7 597.8 345 598C351.3 598.2 359.2 602.2 363 605C366.8 607.8 368.5 611.2 368 615C367.5 618.8 365.2 624.5 360 628C354.8 631.5 344.2 635.5 337 636C329.8 636.5 321 633.7 317 631C313 628.3 311.7 624.5 313 620Z"/>
<path fill="#648cff" d="M585 612C586.2 608.7 591.7 602.7 597 600C602.3 597.3 611.7 595.7 617 596C622.3 596.3 627.3 599.3 629 602C630.7 604.7 630.2 609 627 612C623.8 615 616.2 618.7 610 620C603.8 621.3 594.2 621.3 590 620C585.8 618.7 583.8 615.3 585 612Z"/>
<path fill="#ffffff" d="M477 257C477 257 495 257 495 257C495 257 494 263 494 263C494 263 488.4 262.5 486.7 262.7C485 262.9 484.6 263.3 484 264C483.4 264.7 484 265.8 483.3 266.7C482.6 267.6 480.9 269.4 480 269.3C479.1 269.2 478.5 267.2 478 266C477.5 264.8 477.2 263.5 477 262C476.8 260.5 477 257 477 257Z"/>
<path fill="#ffffff" d="M600.5 300.7C600.5 300.7 620.3 315 620.3 315C620.3 315 623 313 623 313C623 313 621 305 621 305C621 305 612 296 612 296C612 296 600.5 296 600.5 296C600.5 296 600.5 300.7 600.5 300.7Z"/>
<path fill="#648cff" d="M805 540C805 540 798.8 547 796 552C793.2 557 789.8 563.7 788 570C786.2 576.3 784.7 583.8 785 590C785.3 596.2 787.5 603.3 790 607C792.5 610.7 793.3 611.2 800 612C806.7 612.8 830 612 830 612C830 612 830 540 830 540C830 540 805 540 805 540Z"/>
<path fill="none" stroke="#a8a8b0" stroke-width="1.1" stroke-dasharray="1.6 5.6" d="M40.0 83.1A1829.5 1829.5 0 0 0 860.0 82.9M40.0 135.4A1880.5 1880.5 0 0 0 860.0 135.1M40.0 188.1A1932.0 1932.0 0 0 0 860.0 187.9M40.0 240.3A1983.0 1983.0 0 0 0 860.0 240.0M40.0 292.4A2034.0 2034.0 0 0 0 860.0 292.1M40.0 345.4A2086.0 2086.0 0 0 0 860.0 345.2M40.0 398.9A2138.5 2138.5 0 0 0 860.0 398.7M40.0 452.9A2191.5 2191.5 0 0 0 860.0 452.7M40.0 506.8A2244.5 2244.5 0 0 0 860.0 506.6M40.0 560.7A2297.5 2297.5 0 0 0 860.0 560.5M40.0 615.1A2351.0 2351.0 0 0 0 860.0 614.9M40.0 670.4A2405.5 2405.5 0 0 0 860.0 670.2M40.0 725.7A2460.0 2460.0 0 0 0 860.0 725.5M40.0 780.9A2514.5 2514.5 0 0 0 860.0 780.8M40.0 837.2A2570.0 2570.0 0 0 0 860.0 837.0M172.8 100.0L49.0 905.0M234.2 100.0L138.0 905.0M295.8 100.0L227.0 905.0M357.2 100.0L316.0 905.0M418.8 100.0L405.0 905.0M480.2 100.0L494.0 905.0M541.8 100.0L583.0 905.0M603.2 100.0L672.0 905.0M664.8 100.0L761.0 905.0M726.2 100.0L850.0 905.0"/>
</g>
<path fill="#fff" stroke="#000" stroke-width="1.6" stroke-linejoin="round" d="M468 428 L472 427 L474 430 L474 440 L475 447 L472 450 L469 448 L468 440 L467 433Z"/>
<path fill="#fff" stroke="#000" stroke-width="1.6" stroke-linejoin="round" d="M243 221 L248 218 L252 216 L258 213 L266 213 L268 216 L262 219 L255 220 L258 223 L257 227 L250 228 L244 227Z"/>
<path fill="#fff" stroke="#000" stroke-width="1.6" stroke-linejoin="round" d="M317.5 202 L322 203 L327 204.5 L328.5 206.5 L324 207 L319 205Z"/>
<path fill="#fff" stroke="#000" stroke-width="1.6" stroke-linejoin="round" d="M284 313 L288 310 L292 311 L293 316 L290 321 L285 320Z"/>
<path fill="#fff" stroke="#000" stroke-width="1.6" stroke-linejoin="round" d="M251.5 244.5 L253 244.5 L253 247.5 L251.5 247.5Z"/>
<path fill="#fff" stroke="#000" stroke-width="1.6" stroke-linejoin="round" d="M260.5 249 L263 248.5 L264 251 L261.5 252Z"/>
<path fill="#fff" stroke="#000" stroke-width="1.6" stroke-linejoin="round" d="M272 250 L276 247.5 L280 249 L279 253 L275 256 L272 254Z"/>
<path fill="#fff" stroke="#000" stroke-width="1.6" stroke-linejoin="round" d="M680.8 513.3 L693.3 514.2 L699.2 510 L699.2 504.2 L693.3 501.7 L690.8 498.3 L687.5 494.2 L683.3 498.3 L680.8 505Z"/>
<path fill="#fff" stroke="#000" stroke-width="1.9" stroke-linejoin="round" d="M480.5 813.5 L483.5 814 L487 820 L490 829 L492.7 838 L492.2 847 L494.8 853 L497.7 862.5 L495.5 870.5 L493.2 874.5 L492 869 L493.5 862.5 L490.6 853.5 L489.2 847.5 L489.6 839 L487.5 830 L484 821Z"/>
<path fill="#fff" stroke="#000" stroke-width="1.9" stroke-linejoin="round" d="M487 811.5 L492.2 811.8 L495 818.3 L498.3 823 L497.3 829.5 L499.5 834.5 L496 833.5 L493.8 829 L493 823.5 L490.5 817Z"/>
<path fill="#fff8aa" stroke="#000" stroke-width="1.4" stroke-linejoin="round" d="M444 240 L445 236 L454 231 L462 227 L467 223.5 L466 226 L460 231 L453 237 L447 241Z"/>
<path fill="#12a012" stroke="#000" stroke-width="1.4" stroke-linejoin="round" d="M570.5 343 L572 345.5 L573.3 351.5 L570.5 352.7 L568 351.5 L569 347Z"/>
<path fill="none" stroke="#2a2a2a" stroke-width="1.3" stroke-linejoin="round" d="M186 159.5 L187.3 179.7 L185.3 185 L184 201.7 L186 230 L188 260 L185.6 290 L188.3 301.1 L187.8 312.2 L187.2 321.1 L186.7 324.4 L180 331.1 L174.4 335.6 L176.7 342.2 L182.2 348.9 L186.7 353.3 L185.6 370"/>
<path fill="none" stroke="#2a2a2a" stroke-width="1.3" stroke-linejoin="round" d="M185.6 370 L175 446.7"/>
<path fill="none" stroke="#2a2a2a" stroke-width="1.3" stroke-linejoin="round" d="M175 446.7 L300 460 L366.7 463.3"/>
<path fill="none" stroke="#2a2a2a" stroke-width="1.3" stroke-linejoin="round" d="M135.6 312.8 L187.2 320.6"/>
<path fill="none" stroke="#2a2a2a" stroke-width="1.3" stroke-linejoin="round" d="M110 473.3 L127 474.3 L140 474.3 L150 480 L160 488 L165 495"/>
<path fill="none" stroke="#2a2a2a" stroke-width="1.3" stroke-linejoin="round" d="M175 446.7 L170 455 L173 468 L168 480 L165 495 L170 506 L173 518 L176.7 528 L176.7 548 L181.7 561 L180 581 L183.3 600 L190 618 L195 635 L210 645 L203.3 661.7 L213 675 L220 685"/>
<path fill="none" stroke="#2a2a2a" stroke-width="1.3" stroke-linejoin="round" d="M85 621.7 L140 629 L195 636.7"/>
<path fill="none" stroke="#2a2a2a" stroke-width="1.3" stroke-linejoin="round" d="M220 685 L206.7 830 L209.3 880"/>
<path fill="none" stroke="#2a2a2a" stroke-width="1.3" stroke-linejoin="round" d="M63.3 783.3 L140 793.5 L208.3 803.3"/>
<path fill="none" stroke="#2a2a2a" stroke-width="1.3" stroke-linejoin="round" d="M206.7 830 L300 838.3 L400 843.3 L403 850 L390 871.7 L420 871.7"/>
<path fill="none" stroke="#2a2a2a" stroke-width="1.3" stroke-linejoin="round" d="M183.3 603.3 L260 609 L341.7 614.3 L353.3 628.3"/>
<path fill="none" stroke="#2a2a2a" stroke-width="1.3" stroke-linejoin="round" d="M348 295 L337 298 L336.7 300 L335 326.7 L325 333.3 L313.3 346.7 L313.3 351.7 L320 356.7 L316.7 366.7 L315 383.3 L313.3 395 L321.7 403.3 L331.7 410 L343.3 416.7 L346.7 423.3 L361.7 438.3 L368.3 458.3 L371.7 478.3 L375 505 L386.7 511.7 L400 528.3 L406.7 545 L400 561.7 L386.7 571.7 L370 575 L368.3 595 L371.7 608.3 L355 621.7 L353.3 628.3 L350 651.7 L356.7 668.3 L376.7 688.3 L386.7 708.3 L400 711.7 L400 728.3 L393.3 745 L400 758.3 L413.3 765 L423.3 775 L426.7 791.7 L433.3 808.3 L443.3 815 L440 831.7 L426.7 841.7 L423.3 858.3 L413.3 878.3 L406.7 897"/>
<path fill="none" stroke="#2a2a2a" stroke-width="1.3" stroke-linejoin="round" d="M400.7 304.7 L407.3 308.7 L411.3 316.7 L423.3 322 L436.7 326 L446 328.7 L456.7 334 L463.3 334.7 L478 336.7 L480.7 340.7 L482 346 L488.7 347.3 L491.3 352.7 L490 366 L496.7 367.3 L495.3 375.3 L498 382"/>
<path fill="none" stroke="#2a2a2a" stroke-width="1.3" stroke-linejoin="round" d="M388.3 516.7 L495 518.3"/>
<path fill="none" stroke="#2a2a2a" stroke-width="1.3" stroke-linejoin="round" d="M506.7 561.7 L508.3 605 L510 685 L506.7 700 L510 715 L500 738.3 L493.3 755 L490 771.7 L489.5 769.3 L484.8 778.7 L488.3 783.3 L486 788 L476.7 790.3 L470.8 795 L473.2 809 L468.5 811.3 L455.7 803.2 L449.8 804.3 L442.8 814.8"/>
<path fill="none" stroke="#2a2a2a" stroke-width="1.3" stroke-linejoin="round" d="M490 771.7 L506.7 765 L526.7 768.3 L540 760 L550 761.7 L560 748.3 L573.3 756.7 L583.3 741.7 L593.3 731.7 L596.7 715 L623.3 708.3 L621.7 695 L636.7 693.3 L650 708.3 L670 711.7 L686.7 713.3 L701.7 706.7 L716.7 721.7 L726.7 718.3 L731.7 698.3 L743.3 685 L746.7 671.7 L756.7 663.3 L776.7 645 L783.3 625 L785 605 L781 591.7"/>
<path fill="none" stroke="#2a2a2a" stroke-width="1.3" stroke-linejoin="round" d="M535 555 L600 551.7 L663.3 547.7"/>
<path fill="none" stroke="#2a2a2a" stroke-width="1.3" stroke-linejoin="round" d="M611.7 550 L615 605 L620 693.3"/>
<path fill="none" stroke="#2a2a2a" stroke-width="1.3" stroke-linejoin="round" d="M773.3 523.3 L780 570 L786.7 605 L790 638.3"/>
<path fill="none" stroke="#2a2a2a" stroke-width="1.3" stroke-linejoin="round" d="M790 638.3 L813.3 636.7"/>
<path fill="none" stroke="#2a2a2a" stroke-width="1.3" stroke-linejoin="round" d="M716.7 721.7 L716.7 735 L723.3 748.3 L736.7 761.7 L746.7 768.3"/>
<path fill="none" stroke="#2a2a2a" stroke-width="1.3" stroke-linejoin="round" d="M746.7 768.3 L730 785 L716.7 798.3 L706.7 811.7 L680 826.7"/>
<path fill="none" stroke="#2a2a2a" stroke-width="1.3" stroke-linejoin="round" d="M746.7 768.3 L753.3 778.3 L763.3 781.7 L783.3 775 L796.7 768.3 L816.7 758.3 L818.3 745 L826.7 728.3"/>
<path fill="none" stroke="#2a2a2a" stroke-width="1.3" stroke-linejoin="round" d="M431.7 843.3 L490 842.3 L500 835 L550 833.3 L603.3 831.7 L680 826.7 L756.7 816.7 L843.3 806.7"/>
<path fill="none" stroke="#2a2a2a" stroke-width="1.3" stroke-linejoin="round" d="M766.7 815 L763.3 828.3 L750 845 L730 855 L713.3 865 L696.7 878.3 L675 890"/>
<path fill="none" stroke="#000" stroke-width="1.8" stroke-linejoin="round" d="M792 509 L788.7 509.3 L786.7 510 L776.7 518.3 L766.7 525 L753.3 531.7 L740 540 L730 550 L720 553.3 L710 556.7 L701.7 560.8 L693.3 558.3 L685 555 L676.7 551.7 L670 548.3 L664.2 546.7 L668.3 540 L671.7 530 L672.5 520 L676.7 515 L680.8 513.3 L680.8 505 L683.3 498.3 L687.5 494.2 L690.8 493 L693.3 489 L694.2 481.7 L694.4 474.4 L691.1 458.9 L686.7 445.6 L682.2 432.2 L677.8 425.6 L671.1 423.3 L664.4 425.6 L655.6 432.2 L653.3 441.1 L645.6 448.9 L636.7 445.6 L635.6 436.7 L638.9 430 L646.7 425.6 L647.8 416.7 L653.3 410 L654.4 401.1 L653.3 383.3 L648.9 374.4 L651.1 367.8 L644.4 361.1 L633.3 354.4 L622.2 352.2 L613.3 347.8 L604 342 L596.7 340.3 L590 341.7 L590 345 L587.3 348.3 L586.3 353 L588 358.3 L592 360.3 L590 362.3 L584.7 362.3 L580 365.7 L577.7 369.7 L578 375 L578 381.7 L576.7 388.3 L574 395 L574.7 388.3 L573.3 383.7 L572 385 L570.7 391.7 L570 393 L569.3 388.3 L570 381.7 L571.3 374.3 L572.7 372.7 L568.7 373.7 L566.7 378.3 L563.3 383.7 L560 385 L558 387 L554.7 388.3 L554 391.7 L554 396.3 L550 398.3 L549 401 L549 410 L547 421 L544 429 L541 434 L543.3 448.3 L541.7 456.7 L548.3 473.3 L553.3 490 L554.2 506.7 L551.7 525 L545 540 L536.7 551.7 L525 560 L515 563.3 L506.7 556.7 L500 540 L495 526.7 L495 503.3 L490.8 486.7 L491.7 473.3 L496.7 453.3 L497.3 445.8 L498.9 436.4 L502 428.7 L503.6 417.8 L505.1 406.9 L509.8 396 L514.4 385.1 L520.7 370.3 L516 374.2 L511.3 380.4 L508.2 388.2 L505.1 392.9 L497.3 397 L491.1 405.3 L485.7 410 L484.9 405.3 L489 394 L498.9 386.7 L505.1 374.2 L509.8 361.8 L514 352 L518 348 L520 342 L524 348 L528 344 L532 350 L536 344 L540 340 L544 336 L552 334 L560 332 L568 327 L576 326 L584 328 L592 332 L596 336 L599 334 L602 328 L612 328 L624 327 L636 327 L648 330 L644 326 L638 324 L632 324 L630 318 L626 314 L620 310 L618 302 L612 300 L608 301 L602 303 L598 305 L592 306 L586 303 L586 292 L584 291 L576 294 L566 296 L554 297 L544 299 L538 302 L533 308 L528 310 L522 308 L514 308 L506 306 L504 300 L500 296.7 L496.7 292.7 L492.7 289.3 L486.7 287.3 L480 286.3 L476 286.7 L472 288.7 L470 290 L468 295.3 L468.7 287.3 L469.3 283.3 L471.3 279.3 L474 276 L476.7 272.7 L480 269.3 L483.3 266.7 L484 264 L486.7 262.7 L490.7 262.7 L492.7 261.3 L489.3 258.7 L482.7 258.7 L477.3 260 L472 262 L468 264.7 L464 270 L461.3 271.3 L457.3 274.7 L453.3 278 L450 282.7 L445.3 283.3 L440 288.7 L430 294 L420 298 L410 302 L402 304 L396 302 L390 301 L384 302 L388 296 L390 290 L386 286 L380 288 L366 293 L354 295 L348 295 L345 293 L348 288 L358 278 L370 268 L384 256 L398 248 L414 240 L430 233 L432 231 L422 232 L416 230 L410 226 L398 226 L391 225 L388 220 L382 221 L376 224 L370 227 L365 225 L360 220 L352 218 L348 213 L342 213 L338 210 L337.2 208.9 L335.6 205.6 L331.1 201.1 L325.6 197.8 L317.2 196.1 L308.9 195 L306.1 196.1 L303.3 198.9 L295 199.4 L292 194 L285 192 L279 191 L275 189 L270 187 L266 184 L265 180 L261 178 L257 175 L252 176 L247 175 L246 170 L235 169 L200 164.3 L160.5 158.8"/>
<path fill="none" stroke="#000" stroke-width="1.8" stroke-linejoin="round" d="M430 232.5 L433 232 L438 227 L441 221 L443 213 L443 209 L450 206 L457 204 L454 212 L453 215 L456 213 L460 209 L462 201 L465 193 L468 190 L471 192 L471 197 L468 203 L465 208 L466 210 L470 204 L473 201 L476 201 L477 197 L480 195 L480 191 L477 187 L474 184 L480 181 L484 183 L489 185 L491.7 186.7 L505 192.2 L518.3 191.1 L531.7 192.2 L536.1 197.8 L540.6 208.9 L545 217.8 L553.9 228.9 L567.2 231.1 L585 228.9 L587.2 231.1 L582.8 244.4 L585 251.1 L593.9 257.8 L598.3 264.4 L596.1 275.6 L598.3 282.2 L605 282.2 L607.2 286.7 L602.8 291.1 L605 297.8 L604.4 298.9 L613.3 301.1 L617.8 310 L626.7 312.2 L640 311.1 L655.6 312.2 L666.7 312.2 L677.8 312.2 L693.3 313.3 L706.7 314.4 L711.1 317.8 L724.4 316.7 L735.6 316.7 L740 321.1 L746.7 330 L753.3 338.9 L760 343.3 L764.4 347.8 L768.9 358.9 L771.1 367.8 L768.9 372.2 L772.2 378.9 L771.1 387.8 L764.4 385.6 L751.1 383.3 L740 381.1 L735.6 376.7 L733.3 367.8 L724.4 363.3 L722.2 355.6 L707.8 356.7 L713.3 358.9 L720 367.8 L726.7 378.9 L726.7 387.8 L720 401.1 L713.3 414.4 L714.4 423.3 L717.8 441.1 L717.8 454.4 L706.7 467.8 L694.4 474.4"/>
<path fill="none" stroke="#000" stroke-width="1.8" stroke-linejoin="round" d="M676.7 530 L685 531.7 L693.3 530 L698.3 533.3 L700 526.7 L710 518.3 L718.3 511.7 L723.3 505 L730 496.7 L738.3 490 L751.7 486.7 L768.3 488.3 L773.3 486.7 L786.7 488.3"/>
<path fill="none" stroke="#000" stroke-width="1.8" stroke-linejoin="round" d="M773.3 486.7 L776.7 478.3 L786.7 474.2"/>
<path fill="none" stroke="#000" stroke-width="1.8" stroke-linejoin="round" d="M430 232.5 L438 233 L455 224 L470.6 216.7 L589.4 281.1 L600.6 304.4"/>
<path fill="none" stroke="#000" stroke-width="1.8" stroke-linejoin="round" d="M482 191 L490 189 L489 193 L482 194"/>
<path fill="none" stroke="#000" stroke-width="1.8" stroke-linejoin="round" d="M451 130 L454 135 L450 140 L447 141 L447 144 L452 148 L449 153 L451 157 L456 155 L457 159 L462 160 L464 155 L468 162 L471 158 L476 159 L477 161 L476 155 L477 145 L478 135 L480 132 L477 130"/>
<path fill="none" stroke="#000" stroke-width="1.8" stroke-linejoin="round" d="M300 184.4 L302.8 183.9 L306.1 181.1 L311.1 179.4 L311.7 183.9 L313.9 187.2 L315 191.1 L317.2 191.1 L321.7 192.8 L326.7 194.4 L330.6 198.9 L333.9 201.1"/>
<path fill="none" stroke="#000" stroke-width="1.8" stroke-linejoin="round" d="M306.1 181.1 L307.2 186.7 L306.7 192.2 L308.9 194.4"/>
<path fill="none" stroke="#000" stroke-width="1.8" stroke-linejoin="round" d="M248 170 L248.3 164 L250.7 162 L253.3 162.7 L256.7 162.7 L260 161.3 L260.7 156.7 L259.3 152.7 L254 152 L252.7 158 L252.7 170"/>
<path fill="none" stroke="#000" stroke-width="1.8" stroke-linejoin="round" d="M264 156 L263.3 163.3 L265.3 180"/>
<path fill="none" stroke="#000" stroke-width="1.8" stroke-linejoin="round" d="M266 180 L268 176.7 L271.3 174.7 L276 171.3 L278.7 168.7 L283.3 168.7 L288 166 L289.3 163.3 L290 156.7 L288.7 151.3 L286.7 150 L281.3 147.3 L282.7 143.3 L282 138 L278.7 136.7 L276.7 133.3 L276 124.7 L273 122.5 L270.5 125 L273.5 133 L274.7 135.3 L266.7 137.3 L264.7 140 L265 143 L268 144 L264 146 L258.5 146.5 L256 140 L255.3 138.7 L254 142 L254 148 L258 150 L262 149 L264 156"/>
<path fill="none" stroke="#000" stroke-width="1.8" stroke-linejoin="round" d="M266 150.7 L270 149.3 L275 149.3 L280 150 L283 152"/>
<path fill="none" stroke="#000" stroke-width="1.8" stroke-linejoin="round" d="M266.7 154 L270 158 L272 161 L275 163 L279 163"/>
<path fill="none" stroke="#000" stroke-width="1.8" stroke-linejoin="round" d="M637.8 334.4 L677.8 354.4 L702.2 443.3 L695.6 474.4"/>
<path fill="none" stroke="#000" stroke-width="1.8" stroke-linejoin="round" d="M673.3 530 L676.7 536.7 L685 543.3 L696.7 546.7 L710 540 L726.7 526.7 L743.3 513.3 L760 505 L776.7 498.3 L791.7 492.5"/>
<path fill="none" stroke="#000" stroke-width="1.8" stroke-linejoin="round" d="M445 220 L453.9 215.6 L456 205"/>
<path fill="none" stroke="#000" stroke-width="1.6" stroke-linejoin="round" d="M650 330 L660 325 L680 323 L700 323 L706 320 L709 328 L705 338 L702 345 L690 340 L675 337 L660 335 L650 333Z"/>
<path fill="none" stroke="#000" stroke-width="1.6" stroke-linejoin="round" d="M458 136 L464 136.5 L462 141Z"/>
<path fill="none" stroke="#000" stroke-width="1.6" stroke-linejoin="round" d="M466.5 148 L469.5 147.5 L470 150.5 L467 151Z"/>
<path fill="none" stroke="#000" stroke-width="1.6" stroke-linejoin="round" d="M457.5 150 L462 149.5 L462.5 153.5 L458 154Z"/>
<path fill="none" stroke="#000" stroke-width="1.6" stroke-linejoin="round" d="M444.5 219.5 L448 219 L448.5 221.3 L445 221.5Z"/>
<path fill="none" stroke="#000" stroke-width="1.6" stroke-linejoin="round" d="M552 241 L556 239.5 L562 240 L561 243 L555 243.5Z"/>
<path fill="none" stroke="#000" stroke-width="1.6" stroke-linejoin="round" d="M366 186 L369 182 L374 183 L376 187 L372 190 L368 189Z"/>
<path fill="none" stroke="#000" stroke-width="1.6" stroke-linejoin="round" d="M733 160 L737 158 L740 162 L736 165Z"/>
</g>
<rect x="53" y="109" width="794" height="790" fill="none" stroke="#000" stroke-width="2"/>
<rect x="54" y="878" width="284" height="19" fill="#fff"/>
<g font-family="'DejaVu Sans', 'Liberation Sans', sans-serif" font-weight="200" fill="#000" stroke="#000">
<text x="123.5" y="58.3" font-size="31.5" stroke-width="0.55" textLength="184.4" lengthAdjust="spacingAndGlyphs">Accumulated</text>
<text x="324.5" y="58.3" font-size="31.5" stroke-width="0.55" textLength="187.4" lengthAdjust="spacingAndGlyphs">Precipitation:</text>
<text x="528.6" y="58.3" font-size="31.5" stroke-width="0.55" textLength="110.7" lengthAdjust="spacingAndGlyphs">Percent</text>
<text x="658.1" y="58.3" font-size="31.5" stroke-width="0.55" textLength="26.1" lengthAdjust="spacingAndGlyphs">of</text>
<text x="700.4" y="58.3" font-size="31.5" stroke-width="0.55" textLength="76.6" lengthAdjust="spacingAndGlyphs">Mean</text>
<text x="213.0" y="91.0" font-size="31.5" stroke-width="0.55" textLength="63.2" lengthAdjust="spacingAndGlyphs">April</text>
<text x="293.1" y="91.0" font-size="31.5" stroke-width="0.55" textLength="27.3" lengthAdjust="spacingAndGlyphs">1,</text>
<text x="335.6" y="91.0" font-size="31.5" stroke-width="0.55" textLength="74.7" lengthAdjust="spacingAndGlyphs">2024</text>
<text x="427.5" y="91.0" font-size="31.5" stroke-width="0.55" textLength="28.1" lengthAdjust="spacingAndGlyphs">to</text>
<text x="470.9" y="91.0" font-size="31.5" stroke-width="0.55" textLength="64.2" lengthAdjust="spacingAndGlyphs">April</text>
<text x="549.3" y="91.0" font-size="31.5" stroke-width="0.55" textLength="47.7" lengthAdjust="spacingAndGlyphs">30,</text>
<text x="611.4" y="91.0" font-size="31.5" stroke-width="0.55" textLength="76.3" lengthAdjust="spacingAndGlyphs">2024</text>
<text x="329.0" y="918.1" font-size="18.6" stroke-width="0.40" textLength="44.5" lengthAdjust="spacingAndGlyphs">Mean</text>
<text x="381.2" y="918.1" font-size="18.6" stroke-width="0.40" textLength="52.6" lengthAdjust="spacingAndGlyphs">period</text>
<text x="440.6" y="918.1" font-size="18.6" stroke-width="0.40" textLength="16.1" lengthAdjust="spacingAndGlyphs">is</text>
<text y="918.1" font-size="18.6" stroke-width="0.40"><tspan x="465.7" textLength="37.3" lengthAdjust="spacingAndGlyphs">1991</tspan><tspan x="503.7" textLength="17.5" lengthAdjust="spacingAndGlyphs">-</tspan><tspan x="521.3" textLength="48.7" lengthAdjust="spacingAndGlyphs">2020.</tspan></text>
<text x="62.3" y="894.3" font-size="16.0" stroke-width="0.35" textLength="22.5" lengthAdjust="spacingAndGlyphs">(C)</text>
<text x="91.1" y="894.3" font-size="16.0" stroke-width="0.35" textLength="73.2" lengthAdjust="spacingAndGlyphs">Midwestern</text>
<text x="170.0" y="894.3" font-size="16.0" stroke-width="0.35" textLength="57.9" lengthAdjust="spacingAndGlyphs">Regional</text>
<text x="234.2" y="894.3" font-size="16.0" stroke-width="0.35" textLength="49.6" lengthAdjust="spacingAndGlyphs">Climate</text>
<text x="290.9" y="894.3" font-size="16.0" stroke-width="0.35" textLength="42.3" lengthAdjust="spacingAndGlyphs">Center</text>
<text x="267.1" y="1039.1" font-size="19.8" stroke-width="0.40" textLength="110.5" lengthAdjust="spacingAndGlyphs">Midwestern</text>
<text x="386.9" y="1039.1" font-size="19.8" stroke-width="0.40" textLength="83.6" lengthAdjust="spacingAndGlyphs">Regional</text>
<text x="482.3" y="1039.1" font-size="19.8" stroke-width="0.40" textLength="73.1" lengthAdjust="spacingAndGlyphs">Climate</text>
<text x="568.0" y="1039.1" font-size="19.8" stroke-width="0.40" textLength="61.6" lengthAdjust="spacingAndGlyphs">Center</text>
<text x="361.3" y="1071.3" font-size="19.8" stroke-width="0.40" textLength="69.9" lengthAdjust="spacingAndGlyphs">Purdue</text>
<text x="442.5" y="1071.3" font-size="19.8" stroke-width="0.40" textLength="95.0" lengthAdjust="spacingAndGlyphs">University</text>
</g>

<g>
<rect x="90" y="948" width="80" height="21.5" fill="#ff5c28"/>
<rect x="170" y="948" width="80" height="21.5" fill="#ffb43c"/>
<rect x="250" y="948" width="80" height="21.5" fill="#ffdc00"/>
<rect x="330" y="948" width="80" height="21.5" fill="#fff8aa"/>
<rect x="410" y="948" width="80" height="21.5" fill="#bad66a"/>
<rect x="490" y="948" width="80" height="21.5" fill="#12a012"/>
<rect x="570" y="948" width="80" height="21.5" fill="#006400"/>
<rect x="650" y="948" width="80" height="21.5" fill="#3c3cb4"/>
<rect x="730" y="948" width="80" height="21.5" fill="#648cff"/>
<rect x="90" y="948" width="720" height="21.5" fill="none" stroke="#000" stroke-width="1.2"/>
<line x1="90" y1="948" x2="90" y2="974" stroke="#000" stroke-width="1.2"/>
<line x1="170" y1="948" x2="170" y2="974" stroke="#000" stroke-width="1.2"/>
<line x1="250" y1="948" x2="250" y2="974" stroke="#000" stroke-width="1.2"/>
<line x1="330" y1="948" x2="330" y2="974" stroke="#000" stroke-width="1.2"/>
<line x1="410" y1="948" x2="410" y2="974" stroke="#000" stroke-width="1.2"/>
<line x1="490" y1="948" x2="490" y2="974" stroke="#000" stroke-width="1.2"/>
<line x1="570" y1="948" x2="570" y2="974" stroke="#000" stroke-width="1.2"/>
<line x1="650" y1="948" x2="650" y2="974" stroke="#000" stroke-width="1.2"/>
<line x1="730" y1="948" x2="730" y2="974" stroke="#000" stroke-width="1.2"/>
<line x1="810" y1="948" x2="810" y2="974" stroke="#000" stroke-width="1.2"/>
</g>
<g font-family="'DejaVu Sans', 'Liberation Sans', sans-serif" font-weight="200" font-size="20" fill="#000" stroke="#000" stroke-width="0.25" text-anchor="middle">
<text x="90" y="993">10</text>
<text x="170" y="993">25</text>
<text x="250" y="993">50</text>
<text x="330" y="993">75</text>
<text x="410" y="993">100</text>
<text x="490" y="993">125</text>
<text x="570" y="993">150</text>
<text x="650" y="993">175</text>
<text x="730" y="993">200</text>
<text x="810" y="993">300</text>
</g>
</svg>
</body></html>
